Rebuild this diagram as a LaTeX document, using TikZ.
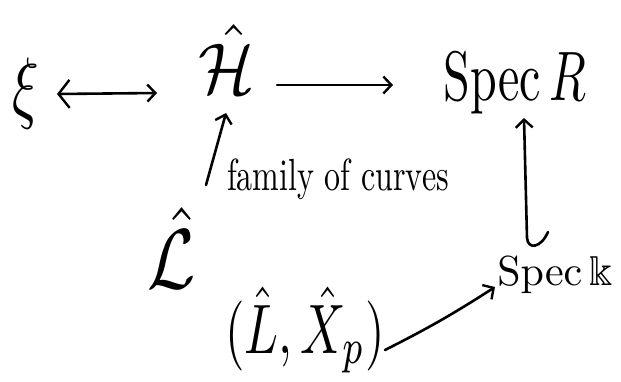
\documentclass[tikz,border=0pt]{standalone}
\usepackage{amsmath,amssymb}
\usetikzlibrary{arrows.meta}
\begin{document}
\begin{tikzpicture}[x=1pt,y=-1pt,
  line width=2.6pt, line cap=round, line join=round,
  barb/.style={-{Straight Barb[length=8pt,width=17pt,line width=2.4pt]}},
  lab/.style={inner sep=0pt, anchor=base}]
\useasboundingbox (0,0) rectangle (621,381);
% objects
\node[lab, xscale=5.5, yscale=8] (xi) at (26,113) {$\xi$};
\node[lab, xscale=6.6, yscale=7.2] (H) at (227,93) {$\hat{\mathcal{H}}$};
\node[lab, xscale=4.8, yscale=7] (specR) at (515,100) {$\mathrm{Spec}\,R$};
\node[lab, xscale=7, yscale=8.5] (L) at (172,288) {$\hat{\mathcal{L}}$};
\node[lab, scale=4.2] (speck) at (555,285) {$\mathrm{Spec}\,\Bbbk$};
\node[lab, xscale=5, yscale=7] (LX) at (305,353) {$(\hat{L},\hat{X}_p)$};
\node[lab, xscale=3.2, yscale=4.5] (fam) at (338,190) {family of curves};
% arrow end points
\coordinate (a1) at (57,94);  \coordinate (a2) at (157,93);
\coordinate (b1) at (277,85); \coordinate (b2) at (393,85);
\coordinate (c1) at (206,185); \coordinate (c2) at (226,113);
\coordinate (d0) at (548,232); \coordinate (d1) at (527,238); \coordinate (d2) at (524,118);
\coordinate (e1) at (385,350); \coordinate (e2) at (495,287);
% connectors
\draw[{Straight Barb[length=11pt,width=28pt,line width=2.4pt]}-{Straight Barb[length=8pt,width=17pt,line width=2.4pt]}] (a1) -- (a2);
\draw[barb] (b1) -- (b2);
\draw[barb] (c1) -- (c2);
\draw[barb] (d0) .. controls (541,248) and (528,250) .. (d1) -- (d2);
\draw[barb] (e1) to[bend right=3] (e2);
\end{tikzpicture}
\end{document}
